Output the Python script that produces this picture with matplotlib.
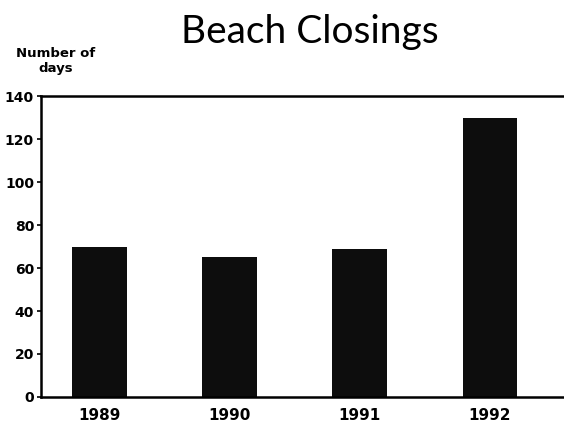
import matplotlib.pyplot as plt

years = ['1989', '1990', '1991', '1992']
days = [70, 65, 69, 130]
yticks = [0, 20, 40, 60, 80, 100, 120, 140]

fig = plt.figure(figsize=(5.64, 4.29), dpi=100)
ax = fig.add_axes([0.0727, 0.0746, 0.9273, 0.7016])

ax.bar(range(len(years)), days, width=0.42, color='#0d0d0d')

ax.set_xlim(-0.45, 3.57)
ax.set_ylim(0, 140)
ax.set_yticks(yticks)
ax.set_xticks(range(len(years)))
ax.set_xticklabels(years, fontsize=11, fontweight='bold')
ax.set_yticklabels([str(v) for v in yticks], fontsize=10, fontweight='bold')
ax.tick_params(axis='x', length=0, pad=8)
ax.tick_params(axis='y', length=3, width=1.2, pad=2)

ax.spines['right'].set_visible(False)
for s in ['left', 'bottom', 'top']:
    ax.spines[s].set_linewidth(1.8)

fig.text(0.55, 0.925, 'Beach Closings', ha='center', va='center',
         fontsize=28, family='Lato', color='black')
fig.text(0.099, 0.858, 'Number of\ndays', ha='center', va='center',
         fontsize=9.5, fontweight='bold', linespacing=1.15)

fig.savefig('out.png')
